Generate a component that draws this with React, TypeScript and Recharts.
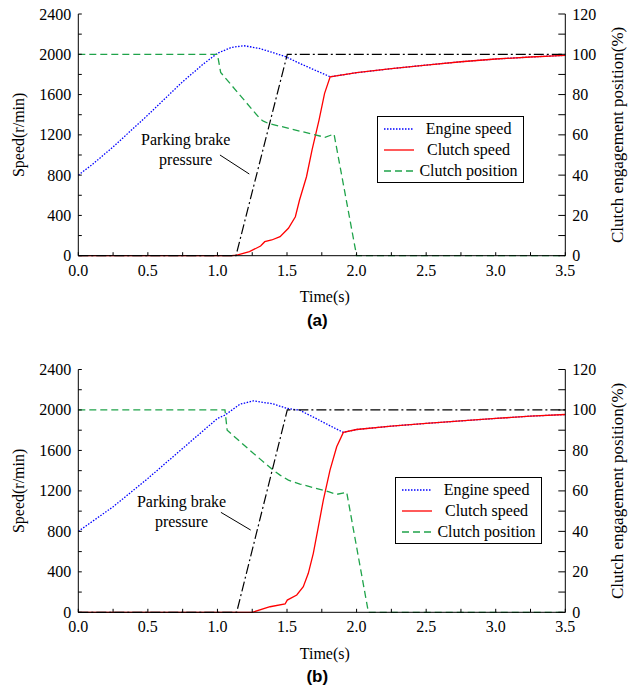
import React from "react";
import { ComposedChart, Line, XAxis, YAxis, Legend, Label, ReferenceLine, ReferenceDot } from "recharts";

// axis ticks
const timeTicks = [0, 0.25, 0.5, 0.75, 1, 1.25, 1.5, 1.75, 2, 2.25, 2.5, 2.75, 3, 3.25, 3.5];
const speedTicks = [0, 200, 400, 600, 800, 1000, 1200, 1400, 1600, 1800, 2000, 2200, 2400];
const positionTicks = [0, 10, 20, 30, 40, 50, 60, 70, 80, 90, 100, 110, 120];
const legendNames = ["Engine speed", "Clutch speed", "Clutch position"];

// (a) engine speed, r/min
const engineTimeA = [0, 0.1, 0.25, 0.5, 0.75, 0.9, 1.0, 1.1, 1.19, 1.3, 1.4, 1.49, 1.59, 1.71, 1.81, 2.0, 2.25, 2.5, 2.75, 3.0, 3.25, 3.5];
const engineSpeedA = [800, 905, 1080, 1397, 1728, 1905, 2010, 2068, 2085, 2059, 2016, 1976, 1910, 1837, 1777, 1817, 1857, 1893, 1926, 1953, 1973, 1990];
// (a) clutch speed, r/min
const clutchTimeA = [0, 1.1, 1.14, 1.23, 1.31, 1.34, 1.39, 1.45, 1.51, 1.56, 1.59, 1.64, 1.68, 1.73, 1.77, 1.81, 2.0, 2.25, 2.5, 2.75, 3.0, 3.25, 3.5];
const clutchSpeedA = [0, 0, 5, 40, 96, 139, 156, 189, 272, 387, 553, 784, 1050, 1347, 1612, 1777, 1817, 1857, 1893, 1926, 1953, 1973, 1990];
// (a) clutch position, %
const positionTimeA = [0, 1.0, 1.023, 1.306, 1.33, 1.366, 1.773, 1.838, 2.0, 3.5];
const positionA = [100, 100, 91, 68, 66.8, 65.7, 58.8, 60.4, 0, 0];
// (a) parking brake pressure, %
const brakeTimeA = [0, 1.133, 1.502, 3.5];
const brakeA = [0, 0, 100, 100];

// (b)
const engineTimeB = [0, 0.25, 0.5, 0.75, 1.0, 1.054, 1.162, 1.258, 1.4, 1.5, 1.59, 1.7, 1.8, 1.905, 2.0, 2.25, 2.5, 2.75, 3.0, 3.25, 3.5];
const engineSpeedB = [800, 1043, 1323, 1620, 1916, 1949, 2057, 2090, 2060, 2015, 1998, 1922, 1850, 1778, 1807, 1840, 1867, 1892, 1916, 1939, 1955];
const clutchTimeB = [0, 1.25, 1.378, 1.486, 1.502, 1.57, 1.617, 1.653, 1.689, 1.725, 1.761, 1.809, 1.857, 1.905, 2.0, 2.25, 2.5, 2.75, 3.0, 3.25, 3.5];
const clutchSpeedB = [0, 0, 55, 82, 121, 171, 253, 385, 583, 845, 1109, 1405, 1636, 1778, 1807, 1840, 1867, 1892, 1916, 1939, 1955];
const positionTimeB = [0, 1.054, 1.07, 1.234, 1.4, 1.45, 1.51, 1.593, 1.797, 1.857, 1.929, 2.085, 3.5];
const positionB = [100, 100, 90, 80, 70.3, 67.8, 65.3, 63.4, 59.6, 58.3, 59.3, 0, 0];
const brakeTimeB = [0, 1.138, 1.502, 3.5];
const brakeB = [0, 0, 100, 100];

const zip = (ts: number[], vs: number[]) => ts.map((t, i) => ({ t, v: vs[i] }));

const SERIF = '"Liberation Serif", "Times New Roman", serif';
const serif = (size: number) => ({ fontFamily: SERIF, fontSize: size });
const axisStyle = { stroke: "#000", strokeWidth: 1 };

const BottomTick = ({ x, y, payload }: any) => {
  const v = payload.value;
  const major = Math.round(v * 100) % 50 === 0;
  return (
    <g>
      <line x1={x} x2={x} y1={y} y2={y - 3.5} stroke="#000" />
      {major && (
        <text x={x} y={y + 20} textAnchor="middle" style={serif(16)} fill="#000">
          {v.toFixed(1)}
        </text>
      )}
    </g>
  );
};

const TopTick = ({ x, y }: any) => <line x1={x} x2={x} y1={y} y2={y + 3.5} stroke="#000" />;

const LeftTick = ({ x, y, payload }: any) => (
  <g>
    <line x1={x} x2={x + 3.5} y1={y} y2={y} stroke="#000" />
    {payload.value % 400 === 0 && (
      <text x={x - 7} y={y + 5.5} textAnchor="end" style={serif(16)} fill="#000">
        {payload.value}
      </text>
    )}
  </g>
);

const RightTick = ({ x, y, payload }: any) => (
  <g>
    <line x1={x} x2={x - 7} y1={y} y2={y} stroke="#000" />
    {payload.value % 20 === 0 && (
      <text x={x + 7} y={y + 5.5} textAnchor="start" style={serif(16)} fill="#000">
        {payload.value}
      </text>
    )}
  </g>
);

const LegendBox = ({ payload }: any) => {
  const items = legendNames
    .map((name) => (payload || []).find((p: any) => p.value === name))
    .filter(Boolean);
  return (
    <div
      style={{
        border: "1px solid #000",
        background: "#fff",
        boxSizing: "border-box",
        width: "100%",
        height: "100%",
        paddingTop: 1,
        ...serif(16),
        color: "#000",
      }}
    >
      {items.map((item: any) => (
        <div key={item.value} style={{ display: "flex", alignItems: "center", height: 21 }}>
          <svg width={36} height={10} style={{ flex: "none" }}>
            <line
              x1={6}
              x2={36}
              y1={5}
              y2={5}
              stroke={item.color}
              strokeWidth={1.3}
              strokeDasharray={item.payload?.strokeDasharray}
            />
          </svg>
          <span style={{ flex: 1, textAlign: "center", whiteSpace: "nowrap" }}>{item.value}</span>
        </div>
      ))}
    </div>
  );
};

interface PanelProps {
  tag: string;
  top: number;
  bottom: number;
  engine: { t: number; v: number }[];
  clutch: { t: number; v: number }[];
  position: { t: number; v: number }[];
  brake: { t: number; v: number }[];
  legend: { left: number; top: number };
  leader: { x: number; y: number }[];
  note: { x: number; y: number };
}

const Panel = ({ tag, top, bottom, engine, clutch, position, brake, legend, leader, note }: PanelProps) => (
  <ComposedChart width={639} height={339} margin={{ top, right: 0.3, bottom, left: 0.3 }}>
    <XAxis
      dataKey="t"
      type="number"
      domain={[0, 3.5]}
      ticks={timeTicks}
      interval={0}
      tickSize={0}
      tickMargin={0}
      tickLine={false}
      tick={BottomTick}
      axisLine={axisStyle}
      height={30}
    >
      <Label
        content={({ viewBox }: any) => (
          <g fill="#000">
            <text x={viewBox.x + viewBox.width / 2 + 3} y={viewBox.y + 46.5} textAnchor="middle" style={serif(16)}>
              Time(s)
            </text>
            <text
              x={viewBox.x + viewBox.width / 2 - 4.5}
              y={viewBox.y + 70}
              textAnchor="middle"
              style={{ fontFamily: '"Liberation Sans", Arial, sans-serif', fontWeight: "bold", fontSize: 17 }}
            >
              {tag}
            </text>
          </g>
        )}
      />
    </XAxis>
    <XAxis
      xAxisId="top"
      orientation="top"
      type="number"
      domain={[0, 3.5]}
      ticks={timeTicks}
      interval={0}
      tickSize={0}
      tickMargin={0}
      tickLine={false}
      tick={TopTick}
      axisLine={axisStyle}
      height={0}
    />
    <YAxis
      yAxisId="speed"
      type="number"
      domain={[0, 2400]}
      ticks={speedTicks}
      interval={0}
      width={78}
      tickSize={0}
      tickMargin={0}
      tickLine={false}
      tick={LeftTick}
      axisLine={axisStyle}
    >
      <Label
        content={({ viewBox }: any) => {
          const cx = viewBox.x + 18;
          const cy = viewBox.y + viewBox.height / 2;
          return (
            <text x={cx} y={cy} transform={`rotate(-90 ${cx} ${cy})`} textAnchor="middle" dominantBaseline="central" style={serif(16)} fill="#000">
              Speed(r/min)
            </text>
          );
        }}
      />
    </YAxis>
    <YAxis
      yAxisId="pos"
      orientation="right"
      type="number"
      domain={[0, 120]}
      ticks={positionTicks}
      interval={0}
      width={73.4}
      tickSize={0}
      tickMargin={0}
      tickLine={false}
      tick={RightTick}
      axisLine={axisStyle}
    >
      <Label
        content={({ viewBox }: any) => {
          const cx = viewBox.x + 52.7;
          const cy = viewBox.y + viewBox.height / 2;
          return (
            <text x={cx} y={cy} transform={`rotate(-90 ${cx} ${cy})`} textAnchor="middle" dominantBaseline="central" style={serif(17)} fill="#000">
              Clutch engagement position(%)
            </text>
          );
        }}
      />
    </YAxis>
    <Legend
      layout="horizontal"
      verticalAlign="middle"
      align="center"
      content={LegendBox}
      wrapperStyle={{ left: legend.left, top: legend.top, width: 147, height: 67 }}
    />
    <ReferenceLine yAxisId="speed" segment={leader} stroke="#000" strokeWidth={1} />
    <ReferenceDot
      yAxisId="speed"
      x={note.x}
      y={note.y}
      r={1}
      fill="none"
      stroke="none"
      label={({ viewBox }: any) => {
        const cx = viewBox.x + viewBox.width / 2;
        const cy = viewBox.y + viewBox.height / 2;
        return (
          <g style={serif(16)} fill="#000">
            <text x={cx} y={cy} textAnchor="middle">Parking brake</text>
            <text x={cx} y={cy + 20} textAnchor="middle">pressure</text>
          </g>
        );
      }}
    />
    <Line yAxisId="speed" data={engine} dataKey="v" name="Engine speed" type="linear" stroke="#0000ff" strokeWidth={1.3} strokeDasharray="1.5 1.5" dot={false} isAnimationActive={false} />
    <Line yAxisId="speed" data={clutch} dataKey="v" name="Clutch speed" type="linear" stroke="#ff0000" strokeWidth={1.3} dot={false} isAnimationActive={false} />
    <Line yAxisId="pos" data={position} dataKey="v" name="Clutch position" type="linear" stroke="#1fa34a" strokeWidth={1.3} strokeDasharray="7 4" dot={false} isAnimationActive={false} />
    <Line yAxisId="pos" data={brake} dataKey="v" name="Parking brake pressure" legendType="none" type="linear" stroke="#000" strokeWidth={1.2} strokeDasharray="10 3 2 3" dot={false} isAnimationActive={false} />
  </ComposedChart>
);

export default function App() {
  return (
    <div style={{ position: "absolute", left: 0, top: 0, width: 639, height: 694, background: "#fff" }}>
      <div style={{ position: "absolute", left: 0, top: 0 }}>
        <Panel
          tag="(a)"
          top={14}
          bottom={53.3}
          engine={zip(engineTimeA, engineSpeedA)}
          clutch={zip(clutchTimeA, clutchSpeedA)}
          position={zip(positionTimeA, positionA)}
          brake={zip(brakeTimeA, brakeA)}
          legend={{ left: 377, top: 116 }}
          leader={[{ x: 1.018, y: 1000 }, { x: 1.229, y: 811 }]}
          note={{ x: 0.772, y: 1099 }}
        />
      </div>
      <div style={{ position: "absolute", left: 0, top: 355 }}>
        <Panel
          tag="(b)"
          top={14.5}
          bottom={51.7}
          engine={zip(engineTimeB, engineSpeedB)}
          clutch={zip(clutchTimeB, clutchSpeedB)}
          position={zip(positionTimeB, positionB)}
          brake={zip(brakeTimeB, brakeB)}
          legend={{ left: 395, top: 122 }}
          leader={[{ x: 1.025, y: 988 }, { x: 1.239, y: 813 }]}
          note={{ x: 0.742, y: 1043 }}
        />
      </div>
    </div>
  );
}
